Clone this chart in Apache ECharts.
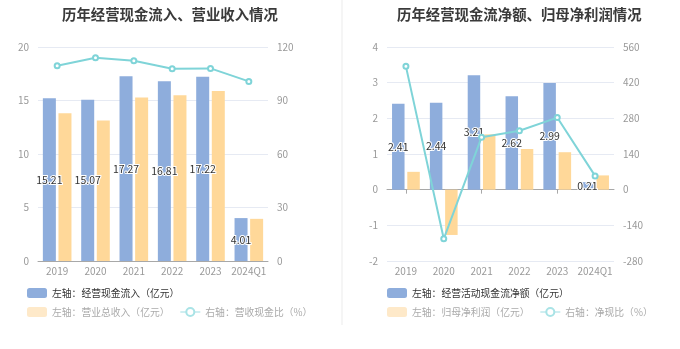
<!DOCTYPE html>
<html>
<head>
<meta charset="utf-8">
<script src="https://cdn.jsdelivr.net/npm/echarts@6/dist/echarts.min.js"></script>
<style>
  html, body { margin: 0; padding: 0; background: #fff; }
  #chart { width: 680px; height: 349px; }
</style>
</head>
<body>
<div id="chart"></div>
<script>
// Categories shared by both panels
const years = ['2019', '2020', '2021', '2022', '2023', '2024Q1'];

// Left panel: operating cash inflow vs. total revenue (亿元), ratio (%)
const cashInflow = [15.21, 15.07, 17.27, 16.81, 17.22, 4.01];
const totalRevenue = [13.82, 13.12, 15.28, 15.50, 15.88, 3.94];
const revenueCashRatio = [109.5, 114.0, 112.3, 107.8, 108.0, 100.7];

// Right panel: net operating cash flow vs. net profit (亿元), ratio (%)
const netCashFlow = [2.41, 2.44, 3.21, 2.62, 2.99, 0.21];
const netProfit = [0.50, -1.27, 1.55, 1.14, 1.05, 0.40];
const netCashRatio = [484, -193, 206, 231, 283, 54];

// Axis ranges
const leftAxisA = { min: 0, max: 20, interval: 5 };
const rightAxisA = { min: 0, max: 120, interval: 30 };
const leftAxisB = { min: -2, max: 4, interval: 1 };
const rightAxisB = { min: -280, max: 560, interval: 140 };

const names = {
  a1: '左轴：经营现金流入（亿元）',
  a2: '左轴：营业总收入（亿元）',
  a3: '右轴：营收现金比（%）',
  b1: '左轴：经营活动现金流净额（亿元）',
  b2: '左轴：归母净利润（亿元）',
  b3: '右轴：净现比（%）'
};

const BLUE = '#8eaddc';
const ORANGE = '#ffd899';
const TEAL = '#7fd4d8';
const FONT = 'Noto Sans CJK SC';
const axisLabelColor = '#999';
const splitColor = '#e6eaf3';

const chart = echarts.init(document.getElementById('chart'), null, { renderer: 'canvas' });

function valueAxis(gridIndex, range, withSplit) {
  return {
    type: 'value', gridIndex: gridIndex,
    min: range.min, max: range.max, interval: range.interval,
    axisLine: { show: false }, axisTick: { show: false },
    axisLabel: { color: axisLabelColor, fontSize: 10, margin: 9 },
    splitLine: { show: withSplit, lineStyle: { color: splitColor, width: 1 } }
  };
}

function barLabel() {
  return {
    show: true, position: 'inside', color: '#333', fontSize: 10.5,
    textBorderColor: '#fff', textBorderWidth: 2
  };
}

function legendRow(left, top, items) {
  return {
    left: left, top: top, orient: 'horizontal', itemWidth: 20, itemHeight: 10,
    itemGap: 10, padding: 0, selectedMode: false,
    textStyle: { fontSize: 9.8, color: '#333', fontFamily: FONT },
    data: items
  };
}

function fadedBar(name) {
  return { name: name, icon: 'roundRect', itemStyle: { color: '#fee9c9' }, textStyle: { color: '#aaa' } };
}
function fadedLine(name) {
  return {
    name: name,
    itemStyle: { color: '#a9e3e6' },
    lineStyle: { color: '#bfe9ec', width: 1.5 },
    textStyle: { color: '#aaa' }
  };
}

const option = {
  animation: false,
  backgroundColor: '#fff',
  textStyle: { fontFamily: FONT },
  graphic: [{
    type: 'line', shape: { x1: 342, y1: 0, x2: 342, y2: 325 },
    style: { stroke: '#f2f2f2', lineWidth: 1.5 }
  }],
  title: [
    { text: '历年经营现金流入、营业收入情况', left: 57, top: 2,
      textStyle: { fontSize: 14.4, fontWeight: 'bold', color: '#3a3a3a', fontFamily: FONT } },
    { text: '历年经营现金流净额、归母净利润情况', left: 392, top: 2,
      textStyle: { fontSize: 14.4, fontWeight: 'bold', color: '#3a3a3a', fontFamily: FONT } }
  ],
  legend: [
    legendRow(27, 288, [{ name: names.a1, icon: 'roundRect' }]),
    legendRow(27, 307, [fadedBar(names.a2), fadedLine(names.a3)]),
    legendRow(387, 288, [{ name: names.b1, icon: 'roundRect' }]),
    legendRow(387, 307, [fadedBar(names.b2), fadedLine(names.b3)])
  ],
  grid: [
    { left: 38, width: 230, top: 47, height: 214 },
    { left: 387, width: 227, top: 47, height: 214 }
  ],
  xAxis: [
    { type: 'category', gridIndex: 0, data: years,
      axisLine: { lineStyle: { color: '#a8a8a8' } },
      axisTick: { alignWithLabel: true, length: 4, lineStyle: { color: '#a8a8a8' } },
      axisLabel: { color: axisLabelColor, fontSize: 10, margin: 5, interval: 0 } },
    { type: 'category', gridIndex: 1, data: years,
      axisLine: { show: false, onZero: false }, axisTick: { show: false },
      axisLabel: { color: axisLabelColor, fontSize: 10, margin: 5, interval: 0 } },
    // zero baseline with ticks for the right panel
    { type: 'category', gridIndex: 1, data: years, position: 'bottom',
      axisLine: { show: true, onZero: true, onZeroAxisIndex: 2, lineStyle: { color: '#a8a8a8' } },
      axisTick: { show: true, alignWithLabel: true, length: 4, lineStyle: { color: '#a8a8a8' } },
      axisLabel: { show: false } }
  ],
  yAxis: [
    valueAxis(0, leftAxisA, true),
    Object.assign(valueAxis(0, rightAxisA, false), { position: 'right' }),
    valueAxis(1, leftAxisB, true),
    Object.assign(valueAxis(1, rightAxisB, false), { position: 'right' })
  ],
  series: [
    { name: names.a1, type: 'bar', xAxisIndex: 0, yAxisIndex: 0, data: cashInflow,
      barWidth: 13, barGap: '20%', itemStyle: { color: BLUE }, label: barLabel(), z: 2 },
    { name: names.a2, type: 'bar', xAxisIndex: 0, yAxisIndex: 0, data: totalRevenue,
      barWidth: 13, barGap: '20%', itemStyle: { color: ORANGE } },
    { name: names.a3, type: 'line', xAxisIndex: 0, yAxisIndex: 1, data: revenueCashRatio,
      symbol: 'emptyCircle', symbolSize: 5, lineStyle: { color: TEAL, width: 2 },
      itemStyle: { color: TEAL }, z: 5 },
    { name: names.b1, type: 'bar', xAxisIndex: 1, yAxisIndex: 2, data: netCashFlow,
      barWidth: 12.5, barGap: '22%', itemStyle: { color: BLUE }, label: barLabel(), z: 2 },
    { name: names.b2, type: 'bar', xAxisIndex: 1, yAxisIndex: 2, data: netProfit,
      barWidth: 12.5, barGap: '22%', itemStyle: { color: ORANGE } },
    { name: names.b3, type: 'line', xAxisIndex: 1, yAxisIndex: 3, data: netCashRatio,
      symbol: 'emptyCircle', symbolSize: 5, lineStyle: { color: TEAL, width: 2 },
      itemStyle: { color: TEAL }, z: 5 }
  ]
};

chart.setOption(option);
</script>
</body>
</html>
